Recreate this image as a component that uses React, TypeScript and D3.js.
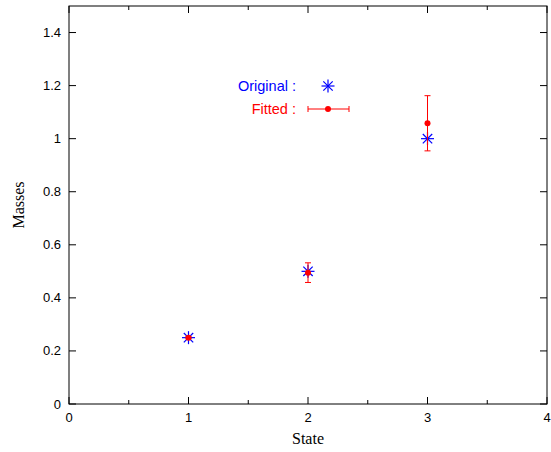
import React from "react";
import * as d3 from "d3";

const originalX = [1, 2, 3];
const originalY = [0.25, 0.5, 1.0];
const fittedX = [1, 2, 3];
const fittedY = [0.25, 0.495, 1.058];
const fittedErr = [0.004, 0.037, 0.104];
const xTickLabels = [0, 1, 2, 3, 4];
const xMinorTicks = [0.5, 1.5, 2.5, 3.5];
const yTickLabels = [0, 0.2, 0.4, 0.6, 0.8, 1, 1.2, 1.4];

const W = 551, H = 452;
const left = 69, right = 547, top = 6, bottom = 404;

function Star({ cx, cy, r, color }: { cx: number; cy: number; r: number; color: string }) {
  const d = r * 0.72;
  return (
    <g stroke={color} strokeWidth={1.2}>
      <line x1={cx - r} y1={cy} x2={cx + r} y2={cy} />
      <line x1={cx} y1={cy - r} x2={cx} y2={cy + r} />
      <line x1={cx - d} y1={cy - d} x2={cx + d} y2={cy + d} />
      <line x1={cx - d} y1={cy + d} x2={cx + d} y2={cy - d} />
    </g>
  );
}

export default function App() {
  const x = d3.scaleLinear().domain([0, 4]).range([left, right]);
  const y = d3.scaleLinear().domain([0, 1.5]).range([bottom, top]);
  const sans = "Liberation Sans, Arial, sans-serif";
  const serif = "Liberation Serif, Times New Roman, serif";
  const tl = 7;
  return (
    <svg width={W} height={H} style={{ position: "absolute", left: 0, top: 0, background: "#fff" }}>
      <rect x={left} y={top} width={right - left} height={bottom - top} fill="none" stroke="#000" strokeWidth={1} />
      {yTickLabels.map((v) => (
        <g key={"y" + v}>
          <line x1={left} x2={left + tl} y1={y(v)} y2={y(v)} stroke="#000" />
          <line x1={right} x2={right - tl} y1={y(v)} y2={y(v)} stroke="#000" />
          <text x={left - 8} y={y(v)} dy="0.35em" textAnchor="end" fontFamily={sans} fontSize={13}>{v}</text>
        </g>
      ))}
      {xTickLabels.map((v) => (
        <g key={"x" + v}>
          <line x1={x(v)} x2={x(v)} y1={bottom} y2={bottom - tl} stroke="#000" />
          <line x1={x(v)} x2={x(v)} y1={top} y2={top + tl} stroke="#000" />
          <text x={x(v)} y={bottom + 18} textAnchor="middle" fontFamily={sans} fontSize={13}>{v}</text>
        </g>
      ))}
      {xMinorTicks.map((v) => (
        <g key={"m" + v}>
          <line x1={x(v)} x2={x(v)} y1={bottom} y2={bottom - 4} stroke="#000" />
          <line x1={x(v)} x2={x(v)} y1={top} y2={top + 4} stroke="#000" />
        </g>
      ))}
      <text x={(left + right) / 2} y={444} textAnchor="middle" fontFamily={serif} fontSize={16}>State</text>
      <text transform={`translate(24,${(top + bottom) / 2}) rotate(-90)`} textAnchor="middle" fontFamily={serif} fontSize={16}>Masses</text>

      {originalX.map((v, i) => (
        <Star key={"o" + i} cx={x(v)} cy={y(originalY[i])} r={6.5} color="#0000ff" />
      ))}
      {fittedX.map((v, i) => {
        const cx = x(v);
        const y1 = y(fittedY[i] + fittedErr[i]);
        const y2 = y(fittedY[i] - fittedErr[i]);
        return (
          <g key={"f" + i} stroke="#ff0000" strokeWidth={1}>
            <line x1={cx} x2={cx} y1={y1} y2={y2} />
            <line x1={cx - 3} x2={cx + 3} y1={y1} y2={y1} />
            <line x1={cx - 3} x2={cx + 3} y1={y2} y2={y2} />
            <circle cx={cx} cy={y(fittedY[i])} r={3} fill="#ff0000" stroke="none" />
          </g>
        );
      })}

      <text x={296} y={86} dy="0.35em" textAnchor="end" fontFamily={sans} fontSize={14.5} fill="#0000ff">Original :</text>
      <Star cx={328} cy={86} r={6.5} color="#0000ff" />
      <text x={296} y={109} dy="0.35em" textAnchor="end" fontFamily={sans} fontSize={14.5} fill="#ff0000">Fitted :</text>
      <g stroke="#ff0000" strokeWidth={1}>
        <line x1={308} x2={349} y1={109} y2={109} />
        <line x1={308} x2={308} y1={106} y2={112} />
        <line x1={349} x2={349} y1={106} y2={112} />
        <circle cx={328} cy={109} r={3} fill="#ff0000" stroke="none" />
      </g>
    </svg>
  );
}
